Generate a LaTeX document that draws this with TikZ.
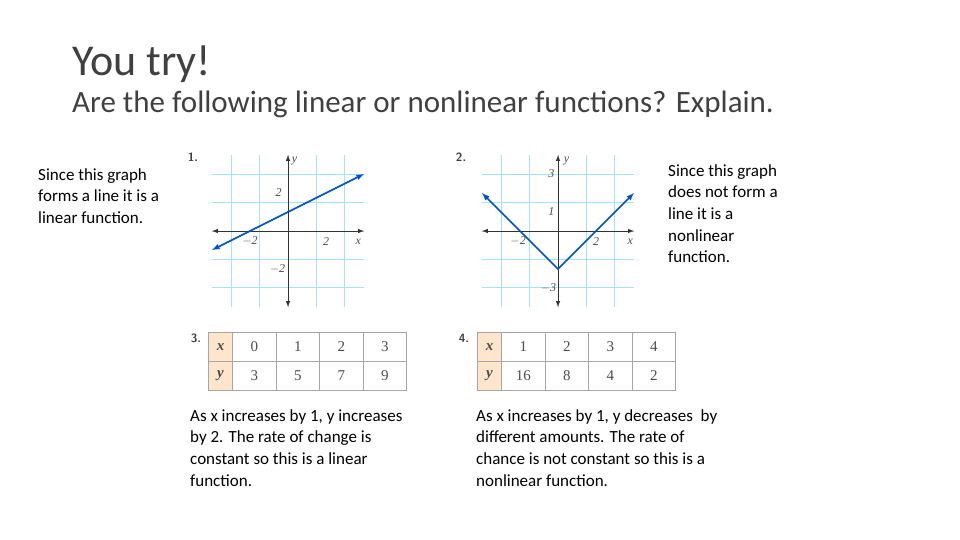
\documentclass[tikz,border=0pt]{standalone}
\usepackage{fontspec}
\setmainfont{Carlito}
\newfontfamily\gfont{Liberation Serif}
\begin{document}
\begin{tikzpicture}[x=1pt,y=-1pt,
  gridl/.style={draw=cyan!35,line width=1pt},
  axl/.style={draw=black!80,line width=1pt,<->,>=latex},
  curve/.style={draw=blue!60!cyan!80!black,line width=1.6pt,<->,>=latex},
  tick/.style={font=\gfont\fontsize{12}{12}\selectfont\itshape,text=black!70,inner sep=1pt},
  body/.style={font=\fontsize{17}{21.7}\selectfont,align=left,anchor=north west,inner sep=0pt},
  cell/.style={draw=black!35,line width=1pt,minimum height=29pt,anchor=north west,font=\gfont\fontsize{15}{15}\selectfont,text=black!70,inner sep=0pt},
  hcell/.style={cell,fill=orange!20,minimum width=24pt,font=\gfont\bfseries\itshape\fontsize{15}{15}\selectfont},
  vcell/.style={cell,minimum width=43.5pt},
  num/.style={font=\sffamily\bfseries\large,text=black!75}]
\useasboundingbox (0,0) rectangle (960,540);
\node[anchor=west,font=\fontsize{44}{44}\selectfont,text=black!75,inner sep=0pt] (title) at (72,64) {You try!};
\node[anchor=west,font=\fontsize{31}{31}\selectfont,text=black!75,inner sep=0pt] (sub) at (72,104) {Are the following linear or nonlinear functions? Explain.};
\node[body] (t1) at (38,168) {Since this graph\\forms a line it is a\\linear function.};
\node[body] (t2) at (668,164) {Since this graph\\does not form a\\line it is a\\nonlinear\\function.};
\node[body] (t3) at (190,409) {As x increases by 1, y increases\\by 2. The rate of change is\\constant so this is a linear\\function.};
\node[body] (t4) at (476,409) {As x increases by 1, y decreases \ by\\different amounts. The rate of\\chance is not constant so this is a\\nonlinear function.};
% graph 1
\begin{scope}[shift={(288,231)},x=19pt,y=19pt]
 \draw[gridl] (-4,-4) grid (4,4);
 \coordinate (a1) at (-4,0); \coordinate (a2) at (4,0);
 \coordinate (b1) at (0,-4); \coordinate (b2) at (0,4);
 \draw[axl] (a1) -- (a2); \draw[axl] (b1) -- (b2);
 \coordinate (l1) at (-4,-1); \coordinate (l2) at (4,3);
 \draw[curve] (l1) -- (l2);
 \node[tick] (y1) at (0.35,3.7) {y};
 \node[tick] (x1) at (3.7,-0.55) {x};
 \node[tick] (p1) at (-2,-0.55) {$-$2};
 \node[tick] (p2) at (2,-0.55) {2};
 \node[tick] (p3) at (-0.5,2) {2};
 \node[tick] (p4) at (-0.55,-2) {$-$2};
 \node[num] (n1) at (-5,3.9) {1.};
\end{scope}
% graph 2
\begin{scope}[shift={(558,231)},x=19pt,y=19pt]
 \draw[gridl] (-4,-4) grid (4,4);
 \coordinate (c1) at (-4,0); \coordinate (c2) at (4,0);
 \coordinate (d1) at (0,-4); \coordinate (d2) at (0,4);
 \draw[axl] (c1) -- (c2); \draw[axl] (d1) -- (d2);
 \coordinate (v1) at (-4,2); \coordinate (v0) at (0,-2); \coordinate (v2) at (4,2);
 \draw[curve] (v1) -- (v0) -- (v2);
 \node[tick] (y2) at (0.45,3.7) {y};
 \node[tick] (x2) at (3.8,-0.55) {x};
 \node[tick] (q1) at (-2.1,-0.55) {$-$2};
 \node[tick] (q2) at (2,-0.55) {2};
 \node[tick] (q3) at (-0.35,3) {3};
 \node[tick] (q4) at (-0.35,1) {1};
 \node[tick] (q5) at (-0.5,-3) {$-$3};
 \node[num] (n2) at (-5.1,3.9) {2.};
\end{scope}
% table 3
\node[num] (n3) at (196,338) {3.};
\node[hcell] (h1) at (208,332) {x};
\node[hcell] (h2) at (208,361) {y};
\foreach \v [count=\i] in {0,1,2,3} \node[vcell] (a\i) at (232+43.5*\i-43.5,332) {\v};
\foreach \v [count=\i] in {3,5,7,9} \node[vcell] (b\i) at (232+43.5*\i-43.5,361) {\v};
% table 4
\node[num] (n4) at (464,338) {4.};
\node[hcell] (h3) at (477,332) {x};
\node[hcell] (h4) at (477,361) {y};
\foreach \v [count=\i] in {1,2,3,4} \node[vcell] (c\i) at (501+43.5*\i-43.5,332) {\v};
\foreach \v [count=\i] in {16,8,4,2} \node[vcell] (d\i) at (501+43.5*\i-43.5,361) {\v};
\end{tikzpicture}
\end{document}
